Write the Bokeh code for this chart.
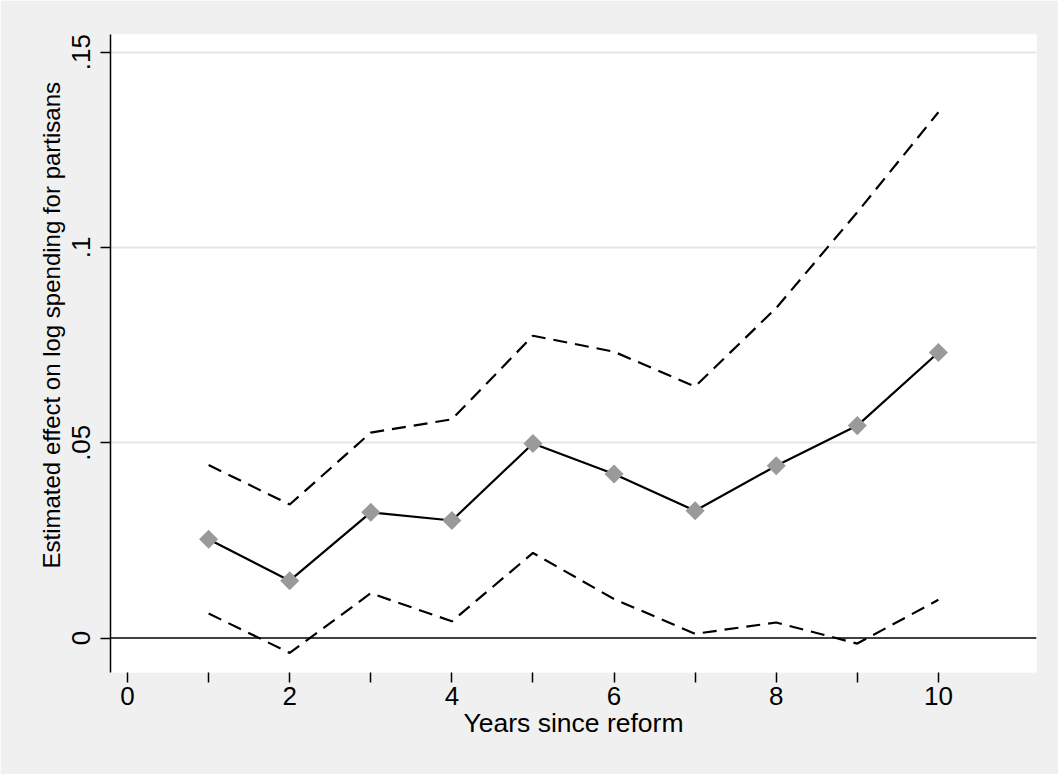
import math
from bokeh.plotting import figure
from bokeh.models import FixedTicker, Span, Range1d, Title
from bokeh.embed import file_html
from bokeh.resources import INLINE

years = [1, 2, 3, 4, 5, 6, 7, 8, 9, 10]
estimate = [0.0253, 0.0147, 0.0322, 0.0301, 0.0498, 0.0420, 0.0326, 0.0441, 0.0544, 0.0731]
upper = [0.0443, 0.0342, 0.0526, 0.0560, 0.0774, 0.0733, 0.0644, 0.0845, 0.1090, 0.1346]
lower = [0.0063, -0.0038, 0.0115, 0.0043, 0.0218, 0.0100, 0.0011, 0.0040, -0.0014, 0.0098]

x_ticks = [0, 1, 2, 3, 4, 5, 6, 7, 8, 9, 10]
x_labels = {t: (str(t) if t % 2 == 0 else "") for t in x_ticks}
y_ticks = [0, 0.05, 0.1, 0.15]
y_labels = {0: "0", 0.05: ".05", 0.1: ".1", 0.15: ".15"}
y_title = "Estimated effect on log spending for partisans"

FONT = "Liberation Sans"

p = figure(width=1058, height=774, output_backend="svg", toolbar_location=None,
           x_range=Range1d(-0.21, 11.21), y_range=Range1d(-0.0088, 0.1545),
           min_border_left=110, min_border_right=22, min_border_top=34, min_border_bottom=102)
p.border_fill_color = "#F0F0F0"
p.background_fill_color = "white"
p.outline_line_color = None

# grid
p.xgrid.grid_line_color = None
p.ygrid.ticker = FixedTicker(ticks=[0.05, 0.1, 0.15])
p.ygrid.grid_line_color = "#E6E6E6"
p.ygrid.grid_line_width = 2

# x axis
xa = p.xaxis[0]
xa.ticker = FixedTicker(ticks=x_ticks)
xa.major_label_overrides = x_labels
xa.axis_line_color = None
xa.major_tick_in = 0
xa.major_tick_out = 10
xa.major_tick_line_width = 1.5
xa.minor_tick_line_color = None
xa.major_label_text_font = FONT
xa.major_label_text_font_size = "26px"
xa.major_label_text_color = "black"
xa.major_label_standoff = 4
xa.axis_label = "Years since reform"
xa.axis_label_text_font = FONT
xa.axis_label_text_font_size = "26.5px"
xa.axis_label_text_font_style = "normal"
xa.axis_label_text_color = "black"
xa.axis_label_standoff = 0

# y axis
ya = p.yaxis[0]
ya.ticker = FixedTicker(ticks=y_ticks)
ya.major_label_overrides = y_labels
ya.axis_line_color = "black"
ya.axis_line_width = 1.5
ya.major_tick_in = 0
ya.major_tick_out = 10
ya.major_tick_line_width = 1.5
ya.minor_tick_line_color = None
ya.major_label_orientation = "vertical"
ya.major_label_text_font = FONT
ya.major_label_text_font_size = "26px"
ya.major_label_text_color = "black"
ya.major_label_standoff = 10

# y axis title as a side title, shifted up like the original
p.add_layout(Title(text=y_title, align="left", offset=104, standoff=9,
                   text_font=FONT, text_font_size="24px", text_font_style="normal",
                   text_color="black"), "left")

p.add_layout(Span(location=0, dimension="width", line_color="black", line_width=1.5))

p.line(years, upper, line_color="black", line_width=2.2, line_dash="14 8")
p.line(years, lower, line_color="black", line_width=2.2, line_dash="14 8")
p.line(years, estimate, line_color="black", line_width=2.2)
p.scatter(years, estimate, marker="square", angle=math.pi / 4, size=13.5,
          fill_color="#9A9A9A", line_color=None)

open("out.html", "w").write(file_html(p, INLINE))
